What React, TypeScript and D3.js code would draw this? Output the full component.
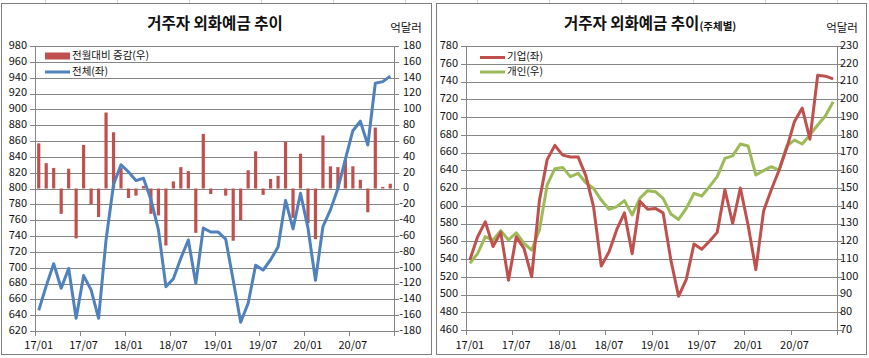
import React from 'react';
import * as d3 from 'd3';

const months = [
  '17/01','17/02','17/03','17/04','17/05','17/06','17/07','17/08','17/09','17/10','17/11','17/12',
  '18/01','18/02','18/03','18/04','18/05','18/06','18/07','18/08','18/09','18/10','18/11','18/12',
  '19/01','19/02','19/03','19/04','19/05','19/06','19/07','19/08','19/09','19/10','19/11','19/12',
  '20/01','20/02','20/03','20/04','20/05','20/06','20/07','20/08','20/09','20/10','20/11','20/12',
];
const tickLabels = ['17/01','17/07','18/01','18/07','19/01','19/07','20/01','20/07'];

// Left chart: total (left axis) and month-on-month change (right axis)
const totalDeposits = [
  646, 677, 705, 674, 699, 636, 690, 672, 636, 735, 805, 830,
  821, 810, 813, 786, 748, 676, 686, 712, 735, 680, 750, 745,
  745, 736, 684, 631, 655, 703, 697, 710, 726, 785, 749, 794,
  750, 684, 752, 773, 800, 837, 873, 885, 855, 933, 935, 942,
];
const monthlyChange = [
  57, 32, 26, -32, 25, -63, 55, -20, -36, 96, 71, 26,
  -12, -9, 3, -32, -34, -72, 9, 27, 22, -56, 69, -7,
  0, -9, -66, -40, 23, 47, -8, 12, 16, 59, -37, 44,
  -44, -64, 67, 28, 27, 36, 28, 11, -30, 77, 2, 6,
];

// Right chart: corporate (left axis), individual (right axis)
const corporate = [
  539, 565, 582, 554, 570, 516, 565, 552, 520, 606, 652, 668,
  657, 655, 655, 634, 599, 532, 548, 573, 592, 546, 605, 596,
  597, 592, 539, 498, 517, 557, 551, 560, 570, 618, 580, 620,
  578, 528, 594, 618, 640, 665, 695, 710, 675, 747, 746, 743,
];
const individual = [
  107.6, 113, 122.6, 120.7, 126, 120.7, 124.8, 118.8, 115, 126.3, 151.7, 160.9,
  161.6, 156.4, 158.3, 153, 149.8, 143.2, 138, 139.5, 142.9, 134.8, 144.2, 148.5,
  147.9, 144.2, 135.4, 132.3, 138.5, 147, 145.5, 150.8, 156.4, 166.7, 168.1, 174.8,
  173.7, 157.3, 159.8, 162, 160.1, 173.7, 177, 174.8, 179.9, 185.5, 190.6, 198.6,
];

const leftDomain1: [number, number] = [620, 980];
const rightDomain1: [number, number] = [-180, 180];
const leftDomain2: [number, number] = [460, 780];
const rightDomain2: [number, number] = [70, 230];

const RED = '#C0504D';
const BLUE = '#4F81BD';
const GREEN = '#9BBB59';
const GRID = '#868686';
const TXT = '#111';
const FONT = '"Noto Sans CJK KR", "Noto Sans", sans-serif';

type Frame = { x0: number; x1: number; y0: number; y1: number };

function RightLabel({ x, y, v }: { x: number; y: number; v: number }) {
  const neg = v < 0;
  return (
    <g>
      {neg && (
        <text x={x} y={y} textAnchor="end" fontSize={11} fill={TXT} dominantBaseline="middle">-</text>
      )}
      <text x={x} y={y} fontSize={11} fill={TXT} dominantBaseline="middle">{Math.abs(v)}</text>
    </g>
  );
}

function Axes({ f, yL, yR, stepL, stepR, x, leftLabelX, rightLabelX, xLabelY }: any) {
  const ticksL = d3.range(yL.domain()[0], yL.domain()[1] + 0.001, stepL);
  const ticksR = d3.range(yR.domain()[0], yR.domain()[1] + 0.001, stepR);
  const bw = x.bandwidth();
  const boundaries = d3.range(0, months.length + 1, 6).map((i: number) => f.x0 + bw * i);
  return (
    <g>
      {ticksL.map((t: number) => (
        <line key={'g' + t} x1={f.x0} x2={f.x1} y1={Math.round(yL(t)) + 0.5} y2={Math.round(yL(t)) + 0.5} stroke={GRID} strokeWidth={1} />
      ))}
      <line x1={f.x0 + 0.5} x2={f.x0 + 0.5} y1={f.y0} y2={f.y1} stroke={GRID} />
      <line x1={f.x1 + 0.5} x2={f.x1 + 0.5} y1={f.y0} y2={f.y1} stroke={GRID} />
      {ticksL.map((t: number) => (
        <g key={'l' + t}>
          <line x1={f.x0 - 5} x2={f.x0} y1={Math.round(yL(t)) + 0.5} y2={Math.round(yL(t)) + 0.5} stroke={GRID} />
          <text x={leftLabelX} y={yL(t)} textAnchor="end" dominantBaseline="middle" fontSize={11} fill={TXT}>{t}</text>
        </g>
      ))}
      {ticksR.map((t: number) => (
        <g key={'r' + t}>
          <line x1={f.x1} x2={f.x1 + 5} y1={Math.round(yR(t)) + 0.5} y2={Math.round(yR(t)) + 0.5} stroke={GRID} />
          <RightLabel x={rightLabelX} y={yR(t)} v={t} />
        </g>
      ))}
      {boundaries.map((bx: number, i: number) => (
        <line key={'b' + i} x1={Math.round(bx) + 0.5} x2={Math.round(bx) + 0.5} y1={f.y1} y2={f.y1 + 5} stroke={GRID} />
      ))}
      {tickLabels.map((lab) => (
        <text key={lab} x={(x(lab) as number) + bw / 2} y={xLabelY} textAnchor="middle" dominantBaseline="middle" fontSize={11} fill={TXT}>{lab}</text>
      ))}
    </g>
  );
}

function LeftChart() {
  const f: Frame = { x0: 35, x1: 394, y0: 46, y1: 331 };
  const x = d3.scaleBand<string>().domain(months).range([f.x0, f.x1]).padding(0);
  const yL = d3.scaleLinear().domain(leftDomain1).range([f.y1, f.y0]);
  const yR = d3.scaleLinear().domain(rightDomain1).range([f.y1, f.y0]);
  const bw = x.bandwidth();
  const cx = (i: number) => (x(months[i]) as number) + bw / 2;
  const line = d3.line<number>().x((_, i) => cx(i)).y((d) => yL(d));
  const barW = 3.2;
  return (
    <g>
      <rect x={1.5} y={3.5} width={430} height={351} fill="#fff" stroke="#7f7f7f" />
      <text x={215} y={25} textAnchor="middle" dominantBaseline="middle" fontSize={15.5} fontWeight="bold" fill={TXT}>거주자 외화예금 추이</text>
      <text x={406} y={29} textAnchor="middle" dominantBaseline="middle" fontSize={11.5} fill={TXT}>억달러</text>
      <Axes f={f} yL={yL} yR={yR} stepL={20} stepR={20} x={x} leftLabelX={27} rightLabelX={403} xLabelY={346} />
      {monthlyChange.map((v, i) => (
        <rect key={i} x={cx(i) - barW / 2} y={yR(Math.max(v, 0))} width={barW} height={Math.abs(yR(v) - yR(0))} fill={RED} />
      ))}
      <path d={line(totalDeposits) as string} fill="none" stroke={BLUE} strokeWidth={3} strokeLinejoin="round" />
      <rect x={45} y={52.5} width={25} height={7} fill={RED} />
      <text x={72} y={56.5} dominantBaseline="middle" fontSize={10.5} fill={TXT}>전월대비 증감(우)</text>
      <line x1={45} x2={70} y1={72} y2={72} stroke={BLUE} strokeWidth={3} />
      <text x={72} y={72.5} dominantBaseline="middle" fontSize={10.5} fill={TXT}>전체(좌)</text>
    </g>
  );
}

function RightChart() {
  const f: Frame = { x0: 466, x1: 837, y0: 46, y1: 330 };
  const x = d3.scaleBand<string>().domain(months).range([f.x0, f.x1]).padding(0);
  const yL = d3.scaleLinear().domain(leftDomain2).range([f.y1, f.y0]);
  const yR = d3.scaleLinear().domain(rightDomain2).range([f.y1, f.y0]);
  const bw = x.bandwidth();
  const cx = (i: number) => (x(months[i]) as number) + bw / 2;
  const lineL = d3.line<number>().x((_, i) => cx(i)).y((d) => yL(d));
  const lineR = d3.line<number>().x((_, i) => cx(i)).y((d) => yR(d));
  return (
    <g>
      <rect x={436.5} y={3.5} width={430} height={351} fill="#fff" stroke="#7f7f7f" />
      <text x={564} y={25} dominantBaseline="middle" fontSize={15.5} fontWeight="bold" fill={TXT}>
        거주자 외화예금 추이<tspan fontSize={10.5} dy={2}>(주체별)</tspan>
      </text>
      <text x={842} y={29} textAnchor="middle" dominantBaseline="middle" fontSize={11.5} fill={TXT}>억달러</text>
      <Axes f={f} yL={yL} yR={yR} stepL={20} stepR={10} x={x} leftLabelX={458} rightLabelX={840} xLabelY={346} />
      <path d={lineR(individual) as string} fill="none" stroke={GREEN} strokeWidth={3} strokeLinejoin="round" />
      <path d={lineL(corporate) as string} fill="none" stroke={RED} strokeWidth={3} strokeLinejoin="round" />
      <line x1={480} x2={505} y1={57.5} y2={57.5} stroke={RED} strokeWidth={3} />
      <text x={507} y={57} dominantBaseline="middle" fontSize={10.5} fill={TXT}>기업(좌)</text>
      <line x1={480} x2={505} y1={72} y2={72} stroke={GREEN} strokeWidth={3} />
      <text x={507} y={72.5} dominantBaseline="middle" fontSize={10.5} fill={TXT}>개인(우)</text>
    </g>
  );
}

export default function App() {
  const cellLines = d3.range(45, 869, 72);
  return (
    <svg width={869} height={358} style={{ position: 'absolute', left: 0, top: 0, background: '#fff' }} fontFamily={FONT}>
      <rect x={0} y={0} width={869} height={358} fill="#fff" />
      {cellLines.map((cx: number) => (
        <line key={cx} x1={cx + 0.5} x2={cx + 0.5} y1={0} y2={3} stroke="#d4d4d4" />
      ))}
      <LeftChart />
      <RightChart />
    </svg>
  );
}
